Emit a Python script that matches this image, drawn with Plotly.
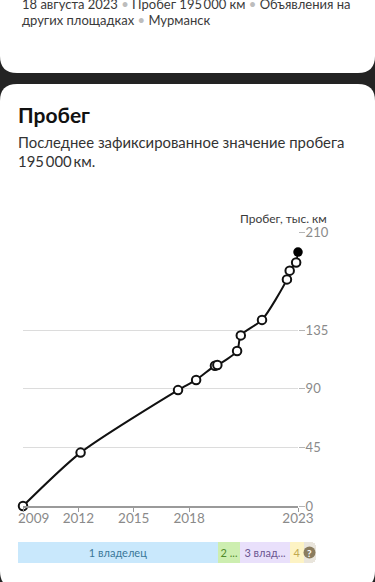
import plotly.graph_objects as go

W, H = 375, 582

years = [2009.0, 2012.12, 2017.4, 2018.38, 2019.4, 2019.53, 2020.6, 2020.8, 2021.95, 2023.3, 2023.45, 2023.8]
mileage = [0, 41, 89, 96.8, 107.7, 108.2, 119, 131, 142.9, 174, 180.7, 187]
last_year = [2023.9]
last_mileage = [195]

x_tick_vals = [2009, 2012, 2015, 2018, 2023.9]
x_tick_text = ["", "2012", "2015", "2018", "2023"]
first_tick_label = "2009"
y_ticks = [0, 45, 90, 135, 210]

owner_labels = ["1 владелец", "2 ...", "3 влад...", "4", ""]
owner_shares = [200, 22, 50, 14, 12]
owner_fill = ["#c9e8fc", "#cdeeb0", "#e9e0fb", "#fdf3c4", "#e9e5dc"]
owner_text = ["#3a7799", "#4f8a2a", "#6a5590", "#c2a94e", "#8a7c5e"]


def px(x):
    return x / W


def py(y):
    return 1 - y / H


def card(top, bottom, r):
    return (
        f"M {px(0)} {py(top + r)} Q {px(0)} {py(top)} {px(r)} {py(top)} "
        f"L {px(W - r)} {py(top)} Q {px(W)} {py(top)} {px(W)} {py(top + r)} "
        f"L {px(W)} {py(bottom - r)} Q {px(W)} {py(bottom)} {px(W - r)} {py(bottom)} "
        f"L {px(r)} {py(bottom)} Q {px(0)} {py(bottom)} {px(0)} {py(bottom - r)} Z"
    )


fig = go.Figure()

fig.add_trace(go.Scatter(
    x=years + last_year, y=mileage + last_mileage, mode="lines",
    line=dict(color="#111111", width=2, shape="spline", smoothing=0.7),
    cliponaxis=False, hoverinfo="skip", showlegend=False,
))
fig.add_trace(go.Scatter(
    x=years, y=mileage, mode="markers",
    marker=dict(size=8.5, color="#ffffff", line=dict(color="#111111", width=2)),
    cliponaxis=False, showlegend=False,
))
fig.add_trace(go.Scatter(
    x=last_year, y=last_mileage, mode="markers",
    marker=dict(size=9.5, color="#000000"),
    cliponaxis=False, showlegend=False,
))

for label, share, fill, tcolor in zip(owner_labels, owner_shares, owner_fill, owner_text):
    fig.add_trace(go.Bar(
        x=[share], y=[0], orientation="h", xaxis="x2", yaxis="y2",
        marker=dict(color=fill, line=dict(width=0)),
        text=[label], textposition="inside", insidetextanchor="middle",
        textangle=0, constraintext="none",
        textfont=dict(family="Lato", size=11, color=tcolor),
        width=1, showlegend=False,
    ))

dot = '<span style="color:#bdbdbd"> • </span>'
anns = [
    dict(text=f"18 августа 2023{dot}Пробег 195\u2009000 км{dot}Объявления на", x=20, y=4.5, size=13, color="#3a3a3a"),
    dict(text=f"других площадках{dot}Мурманск", x=20, y=20.5, size=13, color="#3a3a3a"),
    dict(text="<b>Пробег</b>", x=16, y=115, size=21, color="#111111"),
    dict(text="Последнее зафиксированное значение пробега", x=16, y=142, size=14.9, color="#333333"),
    dict(text="195\u2009000\u2009км.", x=16, y=161, size=14.9, color="#333333"),
]
annotations = [
    dict(xref="paper", yref="paper", x=px(a["x"]), y=py(a["y"]), text=a["text"],
         showarrow=False, xanchor="left", yanchor="middle", xshift=0,
         font=dict(family="Lato", size=a["size"], color=a["color"]))
    for a in anns
]
annotations.append(dict(
    xref="paper", yref="paper", x=px(329), y=py(218), text="Пробег, тыс. км",
    showarrow=False, xanchor="right", yanchor="middle",
    font=dict(family="Lato", size=12, color="#3a3a3a"),
))
annotations.append(dict(
    xref="paper", yref="paper", x=px(309.5), y=py(552.5), text="<b>?</b>",
    showarrow=False, xanchor="center", yanchor="middle",
    font=dict(family="Lato", size=10, color="#ffffff"),
))
annotations.append(dict(
    xref="paper", yref="paper", x=px(33), y=py(518), text=first_tick_label,
    showarrow=False, xanchor="center", yanchor="middle",
    font=dict(family="Lato", size=13.5, color="#8a8a8a"),
))

shapes = [
    dict(type="path", xref="paper", yref="paper", path=card(-40, 73, 17),
         fillcolor="#ffffff", line=dict(width=0), layer="below"),
    dict(type="path", xref="paper", yref="paper", path=card(84, 588, 17),
         fillcolor="#ffffff", line=dict(width=0), layer="below"),
    dict(type="circle", xref="paper", yref="paper",
         x0=px(303.5), x1=px(315.5), y0=py(558.5), y1=py(546.5),
         fillcolor="#8a7c5e", line=dict(width=0), layer="above"),
]

fig.update_layout(
    width=W, height=H, autosize=False,
    margin=dict(l=0, r=0, t=0, b=0, pad=0, autoexpand=False),
    paper_bgcolor="#232323", plot_bgcolor="rgba(0,0,0,0)",
    font=dict(family="Lato"),
    barmode="stack", barcornerradius=5,
    showlegend=False,
    shapes=shapes, annotations=annotations,
    xaxis=dict(
        domain=[px(23), px(298)], range=[2009, 2023.9],
        tickmode="array", tickvals=x_tick_vals, ticktext=x_tick_text,
        ticks="outside", ticklen=4, tickcolor="#9a9a9a", tickwidth=1,
        ticklabelstandoff=-5,
        showline=True, linecolor="#9a9a9a", linewidth=1.5,
        showgrid=False, zeroline=False, automargin=False,
        tickfont=dict(family="Lato", size=13.5, color="#8a8a8a"),
    ),
    yaxis=dict(
        domain=[py(506), py(232.5)], range=[0, 210], side="right",
        tickmode="array", tickvals=y_ticks,
        ticks="outside", ticklen=6, tickcolor="#b5b5b5", tickwidth=1,
        ticklabelstandoff=-2,
        showgrid=True, gridcolor="#dcdcdc", gridwidth=1, zeroline=False, showline=False,
        automargin=False,
        tickfont=dict(family="Lato", size=13, color="#8a8a8a"),
    ),
    xaxis2=dict(domain=[px(18), px(316)], range=[0, sum(owner_shares)], anchor="y2", visible=False),
    yaxis2=dict(domain=[py(563), py(542)], range=[-0.5, 0.5], anchor="x2", visible=False),
)

fig.write_html(
    "out.html",
    config=dict(displayModeBar=False),
    post_script="document.body.style.margin='0';document.body.style.overflow='hidden';",
)
